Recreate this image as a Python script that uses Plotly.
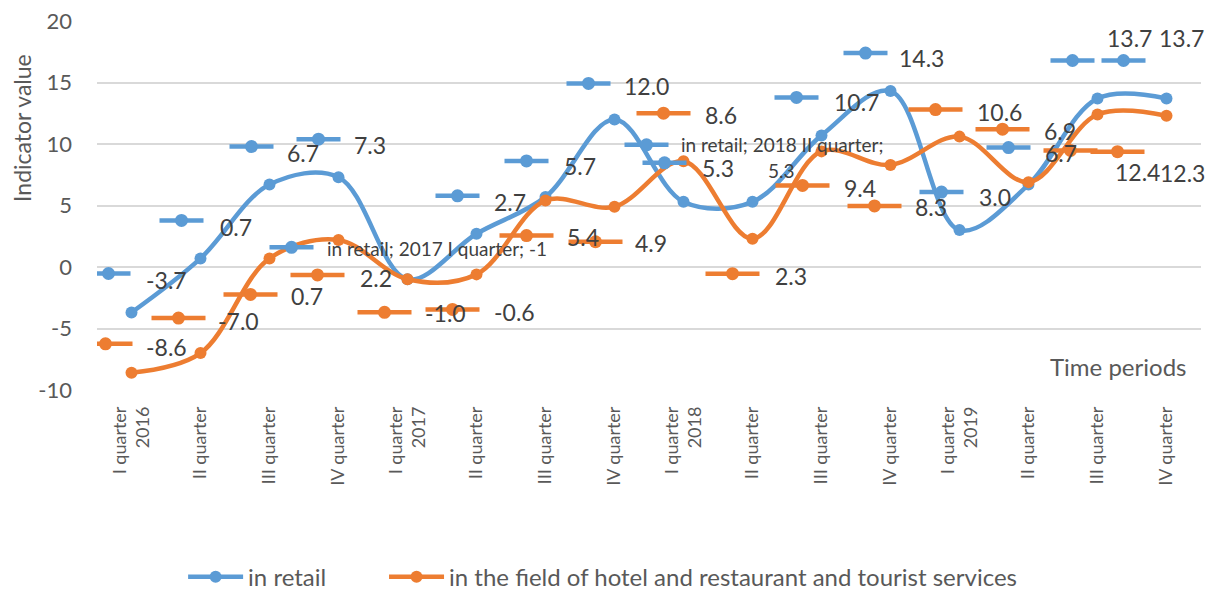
import plotly.graph_objects as go

# ---------------- data ----------------
quarter_labels = ["I quarter<br>2016", "II quarter", "III quarter", "IV quarter",
                  "I quarter<br>2017", "II quarter", "III quarter", "IV quarter",
                  "I quarter<br>2018", "II quarter", "III quarter", "IV quarter",
                  "I quarter<br>2019", "II quarter", "III quarter", "IV quarter"]
retail = [-3.7, 0.7, 6.7, 7.3, -1.0, 2.7, 5.7, 12.0, 5.3, 5.3, 10.7, 14.3, 3.0, 6.7, 13.7, 13.7]
hotel = [-8.6, -7.0, 0.7, 2.2, -1.0, -0.6, 5.4, 4.9, 8.6, 2.3, 9.4, 8.3, 10.6, 6.9, 12.4, 12.3]
series_names = ["in retail", "in the field of hotel and restaurant and tourist services"]
y_tickvals = [-10, -5, 0, 5, 10, 15, 20]
y_ticktext = ["-10", "-5", "0", "5", "10", "15", "20"]

# ---------------- label placement (pixels, relative to data point; +down) ----------------
retail_key = [(-23, -39), (-19, -38), (-18, -38), (-20, -38), (-116, -32), (-19, -38), (-19, -36),
              (-26, -36), (-19, -39), (-106, -57), (-25, -38), (-25, -38), (-18, -38), (-20, -37),
              (-25, -38), (-43, -38)]
retail_txt = [(12, -33), (17, -31), (15, -32), (13, -32), (-83, -31), (15, -32), (16, -31),
              (7, -33), (16, -34), (-74, -57), (10, -33), (6, -33), (17, -33), (14, -32),
              (7, -60), (-10, -60)]
hotel_key = [(-26, -29), (-22, -35), (-19, 36), (-21, 35), (-23, 33), (-24, 35), (-19, 35),
             (-19, 35), (-20, -48), (-20, 35), (-19, 34), (-16, 41), (-24, -27), (-26, -53),
             (-27, 36), (-49, 36)]
hotel_txt = [(12, -26), (15, -32), (19, 38), (19, 38), (15, 34), (15, 38), (19, 36),
             (18, 36), (19, -46), (20, 37), (20, 37), (22, 42), (15, -25), (13, -51),
             (15, 58), (-9, 57)]

BLUE = "#5B9BD5"
ORANGE = "#ED7D31"
FONT = "Lato"
LABEL_COLOR = "#404040"
TICK_COLOR = "#595959"

x = list(range(len(quarter_labels)))

fig = go.Figure()
for name, vals, col, lg in [(series_names[0], retail, BLUE, "legend"),
                            (series_names[1], hotel, ORANGE, "legend2")]:
    fig.add_trace(go.Scatter(
        x=x, y=vals, name=name, mode="lines+markers", legend=lg,
        line=dict(color=col, width=4.5, shape="spline", smoothing=1.0),
        marker=dict(color=col, size=12),
    ))

shapes = []
annotations = []


def add_key(i, v, kdx, kdy, col, half):
    shapes.append(dict(type="line", xref="x", yref="y", xsizemode="pixel", ysizemode="pixel",
                       xanchor=i, yanchor=v, x0=kdx - half, x1=kdx + half, y0=-kdy, y1=-kdy,
                       line=dict(color=col, width=4.5), layer="above"))
    shapes.append(dict(type="circle", xref="x", yref="y", xsizemode="pixel", ysizemode="pixel",
                       xanchor=i, yanchor=v, x0=kdx - 6.5, x1=kdx + 6.5, y0=-kdy - 6.5, y1=-kdy + 6.5,
                       fillcolor=col, line=dict(width=0), layer="above"))


def add_text(i, v, tdx, tdy, text, size=23, xanchor="left"):
    annotations.append(dict(x=i, y=v, xref="x", yref="y", text=text, showarrow=False,
                            xanchor=xanchor, yanchor="middle", xshift=tdx, yshift=-tdy,
                            font=dict(family=FONT, size=size, color=LABEL_COLOR)))


for i, v in enumerate(retail):
    kdx, kdy = retail_key[i]
    add_key(i, v, kdx, kdy, BLUE, 22)
    tdx, tdy = retail_txt[i]
    year = quarter_labels[i].split("<br>")[1] if "<br>" in quarter_labels[i] else "2018"
    if i == 4:
        q = quarter_labels[i].split("<br>")[0]
        add_text(i, v, tdx, tdy, f"{series_names[0]}; {year} {q}; {v:g}", size=19)
    elif i == 9:
        add_text(i, v, tdx, tdy, f"{series_names[0]}; {year} {quarter_labels[i]};", size=19)
        add_text(i, v, 29, -31, f"{v:.1f}", size=19, xanchor="center")
    else:
        add_text(i, v, tdx, tdy, f"{v:.1f}")

for i, v in enumerate(hotel):
    kdx, kdy = hotel_key[i]
    add_key(i, v, kdx, kdy, ORANGE, 27)
    tdx, tdy = hotel_txt[i]
    add_text(i, v, tdx, tdy, f"{v:.1f}")

annotations.append(dict(x=-0.068, y=0.71, xref="paper", yref="paper", text="Indicator value",
                        textangle=-90, showarrow=False, xanchor="center", yanchor="middle",
                        font=dict(family=FONT, size=23, color=TICK_COLOR)))
annotations.append(dict(x=0.988, y=0.065, xref="paper", yref="paper", text="Time periods",
                        showarrow=False, xanchor="right", yanchor="middle",
                        font=dict(family=FONT, size=24, color=TICK_COLOR)))

legend_common = dict(orientation="h", yanchor="middle", y=-0.507, xanchor="left",
                     font=dict(family=FONT, size=24, color=TICK_COLOR), itemwidth=55,
                     bgcolor="rgba(0,0,0,0)", borderwidth=0)

fig.update_layout(
    width=1209, height=590, autosize=False,
    margin=dict(l=97, r=8, t=21, b=200, autoexpand=False),
    plot_bgcolor="white", paper_bgcolor="white",
    font=dict(family=FONT, color=TICK_COLOR),
    shapes=shapes, annotations=annotations,
    showlegend=True,
    legend=dict(x=0.078, **legend_common),
    legend2=dict(x=0.26, **legend_common),
    xaxis=dict(range=[-0.5, 15.5], tickvals=x, ticktext=quarter_labels, tickangle=-90,
               showgrid=False, zeroline=False, showline=False, ticks="", automargin=False,
               tickfont=dict(family=FONT, size=18, color=TICK_COLOR), ticklabelstandoff=12),
    yaxis=dict(range=[-10, 20], tickvals=y_tickvals, ticktext=y_ticktext, automargin=False,
               showgrid=True, gridcolor="#D9D9D9", gridwidth=1.5, zeroline=False,
               showline=False, ticks="", ticklabelstandoff=24,
               tickfont=dict(family=FONT, size=22, color=TICK_COLOR)),
)

fig.write_html("out.html", config={"displayModeBar": False},
               post_script="document.body.style.margin='0';document.body.style.overflow='hidden';")
